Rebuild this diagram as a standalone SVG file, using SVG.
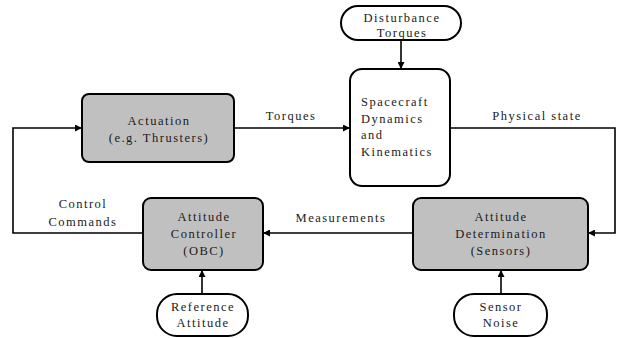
<svg xmlns="http://www.w3.org/2000/svg" width="619" height="338" viewBox="0 0 619 338">
<style>
  .box { stroke: #000; stroke-width: 2; }
  .gray { fill: #c0c0c0; }
  .white { fill: #fff; }
  text { font-family: "Liberation Serif", "Times New Roman", serif; font-size: 12.5px; letter-spacing: 1.5px; fill: #1a1a1a; }
  .c { text-anchor: middle; }
  .conn { fill: none; stroke: #000; stroke-width: 1.6; }
</style>
<defs>
  <marker id="arr" viewBox="0 0 10 10" refX="10" refY="5" markerWidth="7" markerHeight="7" markerUnits="userSpaceOnUse" orient="auto">
    <path d="M0,0 L10,5 L0,10 z" fill="#000"/>
  </marker>
</defs>
<rect width="619" height="338" fill="#fff"/>

<g id="connectors">
  <path class="conn" d="M234,128 H350" marker-end="url(#arr)"/>
  <path class="conn" d="M401,40 V69" marker-end="url(#arr)"/>
  <path class="conn" d="M450,128 H615 V233 H588" marker-end="url(#arr)"/>
  <path class="conn" d="M413,233 H263" marker-end="url(#arr)"/>
  <path class="conn" d="M143,233 H13 V128 H82" marker-end="url(#arr)"/>
  <path class="conn" d="M202,294 V270" marker-end="url(#arr)"/>
  <path class="conn" d="M501,294 V270" marker-end="url(#arr)"/>
  <text x="291" y="120" class="c">Torques</text>
  <text x="537" y="120" class="c">Physical state</text>
  <text x="341" y="222" class="c">Measurements</text>
  <text x="83" y="208" class="c">Control</text>
  <text x="83" y="226" class="c">Commands</text>
</g>

<g id="actuation">
  <rect class="box gray" x="82" y="94" width="152" height="68" rx="7"/>
  <text x="159" y="125" class="c">Actuation</text>
  <text x="159" y="142" class="c">(e.g. Thrusters)</text>
</g>

<g id="disturbance">
  <rect class="box white" x="341" y="6" width="120" height="34" rx="17"/>
  <text x="402" y="22" class="c">Disturbance</text>
  <text x="402" y="37" class="c">Torques</text>
</g>

<g id="spacecraft">
  <rect class="box white" x="350" y="69" width="100" height="117" rx="12"/>
  <text x="361" y="106">Spacecraft</text>
  <text x="361" y="123">Dynamics</text>
  <text x="361" y="139">and</text>
  <text x="361" y="156">Kinematics</text>
</g>

<g id="determination">
  <rect class="box gray" x="413" y="198" width="175" height="72" rx="8"/>
  <text x="501" y="221" class="c">Attitude</text>
  <text x="501" y="238" class="c">Determination</text>
  <text x="501" y="255" class="c">(Sensors)</text>
</g>

<g id="controller">
  <rect class="box gray" x="143" y="198" width="120" height="72" rx="8"/>
  <text x="204" y="221" class="c">Attitude</text>
  <text x="204" y="238" class="c">Controller</text>
  <text x="204" y="255" class="c">(OBC)</text>
</g>

<g id="reference">
  <rect class="box white" x="157" y="294" width="91" height="42" rx="20"/>
  <text x="203" y="311" class="c">Reference</text>
  <text x="203" y="327" class="c">Attitude</text>
</g>

<g id="noise">
  <rect class="box white" x="454" y="294" width="93" height="42" rx="20"/>
  <text x="501" y="311" class="c">Sensor</text>
  <text x="501" y="327" class="c">Noise</text>
</g>
</svg>
